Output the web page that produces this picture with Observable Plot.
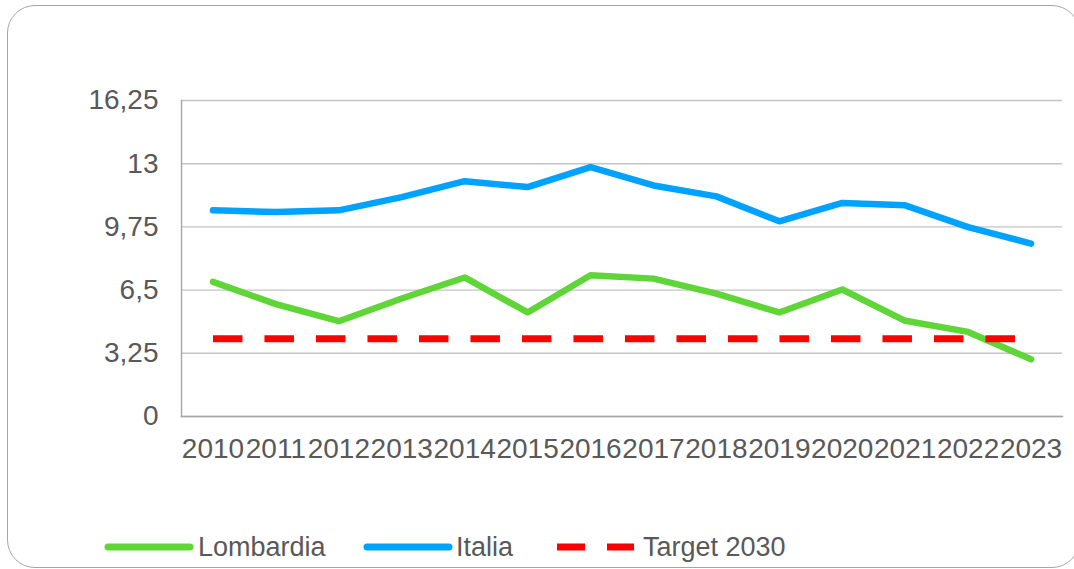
<!DOCTYPE html>
<html>
<head>
<meta charset="utf-8">
<script src="https://cdn.jsdelivr.net/npm/d3@7"></script>
<script src="https://cdn.jsdelivr.net/npm/@observablehq/plot@0.6"></script>
<style>
  html, body { margin: 0; padding: 0; background: #fff; width: 1074px; height: 569px; overflow: hidden; }
  #frame { position: absolute; left: 7px; top: 5px; width: 1073px; height: 563px; box-sizing: border-box;
           border: 1.5px solid #A6A6A6; border-radius: 28px; }
  #chart { position: absolute; left: 0; top: 0; }
  #legend { position: absolute; left: 0; top: 525px; }
  text { font-family: "Liberation Sans", Arial, sans-serif; }
</style>
</head>
<body>
<div id="frame"></div>
<div id="chart"></div>
<div id="legend"></div>
<script>
const years = ["2010","2011","2012","2013","2014","2015","2016","2017","2018","2019","2020","2021","2022","2023"];
const lombardia = [6.92,5.78,4.90,6.07,7.15,5.35,7.26,7.09,6.32,5.35,6.53,4.92,4.35,2.94];
const italia = [10.60,10.51,10.60,11.28,12.10,11.80,12.82,11.88,11.32,10.04,10.98,10.86,9.74,8.89];
const target2030 = 4.0;
const yTicks = [0,3.25,6.5,9.75,13,16.25];
const seriesNames = ["Lombardia","Italia","Target 2030"];
const seriesColors = ["#5FD538","#00A2FF","#FF0000"];

const fmt = d => String(d).replace(".", ",");
const rows = (vals) => years.map((y, i) => ({year: y, value: vals[i]}));
const targetRows = years.map(y => ({year: y, value: target2030}));

const chart = Plot.plot({
  width: 1074,
  height: 480,
  marginLeft: 181,
  marginRight: 12,
  marginTop: 100,
  marginBottom: 64,
  style: {fontFamily: "'Liberation Sans', Arial, sans-serif", fontSize: "28px", color: "#595959", background: "transparent", overflow: "visible"},
  x: {type: "point", domain: years, padding: 0.5, round: false, label: null},
  y: {domain: [0, 16.25], label: null},
  marks: [
    Plot.gridY(yTicks, {stroke: "#C4C4C4", strokeOpacity: 1, strokeWidth: 1.4}),
    Plot.frame({anchor: "left", stroke: "#A6A6A6", strokeWidth: 1.4}),
    Plot.frame({anchor: "bottom", stroke: "#A6A6A6", strokeWidth: 1.4}),
    Plot.axisY(yTicks, {tickSize: 0, tickPadding: 23, tickFormat: fmt, label: null, fontSize: 28, fill: "#595959"}),
    Plot.axisX({tickSize: 0, tickPadding: 22, label: null, fontSize: 28, fill: "#595959"}),
    Plot.line(rows(lombardia), {x: "year", y: "value", stroke: seriesColors[0], strokeWidth: 6.5}),
    Plot.line(rows(italia), {x: "year", y: "value", stroke: seriesColors[1], strokeWidth: 6.5}),
    Plot.line(targetRows, {x: "year", y: "value", stroke: seriesColors[2], strokeWidth: 7, strokeDasharray: "29.5,22", strokeLinecap: "butt"})
  ]
});
document.getElementById("chart").appendChild(chart);

// Legend
const ns = "http://www.w3.org/2000/svg";
const lg = document.createElementNS(ns, "svg");
lg.setAttribute("width", 1074);
lg.setAttribute("height", 44);
const cy = 22;
const items = [
  {x1: 108, x2: 190, tx: 198, dash: null},
  {x1: 367, x2: 449, tx: 456, dash: null},
  {x1: 557, x2: 634, tx: 643, dash: "28,22"}
];
items.forEach((it, i) => {
  const l = document.createElementNS(ns, "line");
  l.setAttribute("x1", it.x1); l.setAttribute("x2", it.x2);
  l.setAttribute("y1", cy); l.setAttribute("y2", cy);
  l.setAttribute("stroke", seriesColors[i]);
  l.setAttribute("stroke-width", 7);
  l.setAttribute("stroke-linecap", it.dash ? "butt" : "round");
  if (it.dash) l.setAttribute("stroke-dasharray", it.dash);
  lg.appendChild(l);
  const t = document.createElementNS(ns, "text");
  t.setAttribute("x", it.tx); t.setAttribute("y", cy);
  t.setAttribute("dy", "0.35em");
  t.setAttribute("font-size", 27);
  t.setAttribute("fill", "#595959");
  t.textContent = seriesNames[i];
  lg.appendChild(t);
});
document.getElementById("legend").appendChild(lg);
</script>
</body>
</html>
